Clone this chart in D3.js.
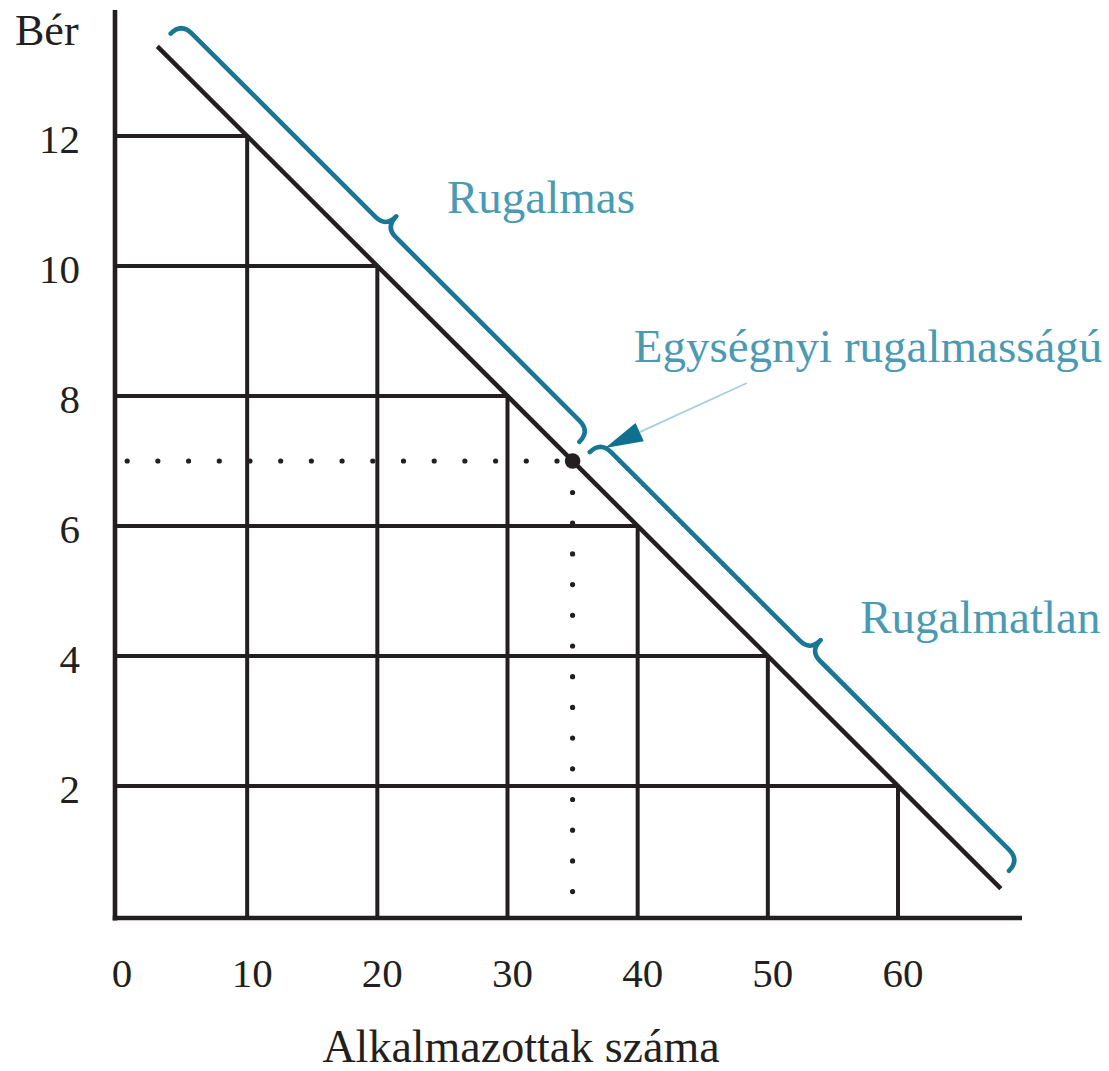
<!DOCTYPE html>
<html>
<head>
<meta charset="utf-8">
<script src="https://cdn.jsdelivr.net/npm/d3@7/dist/d3.min.js"></script>
<style>
  html, body { margin: 0; padding: 0; background: #fff; }
  svg { display: block; }
  text { font-family: "Liberation Serif", "Times New Roman", serif; }
</style>
</head>
<body>
<svg id="chart" width="1109" height="1071"></svg>
<script>
// ---- Data ----
const employees = [10, 20, 30, 40, 50, 60];          // grid columns (x)
const wages = [12, 10, 8, 6, 4, 2];                   // grid rows (y)
const xTicks = [0, 10, 20, 30, 40, 50, 60];
const yTicks = [2, 4, 6, 8, 10, 12];
const demandL = [3.1, 67.9];                          // demand line extent: W = 14 - L/5
const unitPoint = [35, 7];                            // unit-elastic point
const braceRanges = [[3.2, 34.6], [35.4, 67.6]];       // elastic / inelastic segments
const labels = [
  { text: "Rugalmas", L: 25.35, W: 10.82 },
  { text: "Egységnyi rugalmasságú", L: 39.7, W: 8.52 },
  { text: "Rugalmatlan", L: 57.1, W: 4.35 }
];
const arrowFrom = [48.4, 8.2];
const arrowTo = [37.5, 7.2];
const xTitle = "Alkalmazottak száma";
const yTitle = "Bér";

const demand = L => 14 - L / 5;

// ---- Scales ----
const x = d3.scaleLinear().domain([0, 60]).range([117, 898]);
const y = d3.scaleLinear().domain([0, 12]).range([916, 136]);

const svg = d3.select("#chart");
const black = "#231f20";
const braceColor = "#177795";
const textColor = "#4a9ab4";

// grid rectangles
svg.append("g").selectAll("line.h").data(wages).join("line")
  .attr("x1", x(0)).attr("x2", (w, i) => x(employees[i]))
  .attr("y1", d => y(d)).attr("y2", d => y(d))
  .attr("stroke", black).attr("stroke-width", 4);
svg.append("g").selectAll("line.v").data(employees).join("line")
  .attr("x1", d => x(d)).attr("x2", d => x(d))
  .attr("y1", y(0)).attr("y2", d => y(demand(d)))
  .attr("stroke", black).attr("stroke-width", 4);

// axes
svg.append("line").attr("x1", x(0) - 2).attr("x2", x(0) - 2)
  .attr("y1", 10).attr("y2", y(0) + 4.5)
  .attr("stroke", black).attr("stroke-width", 4.6);
svg.append("line").attr("x1", x(0) - 4.3).attr("x2", 1022)
  .attr("y1", y(0) + 2).attr("y2", y(0) + 2)
  .attr("stroke", black).attr("stroke-width", 4.6);

// tick labels
svg.append("g").selectAll("text").data(xTicks).join("text")
  .attr("x", d => x(d) + 5).attr("y", y(0) + 71)
  .attr("text-anchor", "middle").attr("font-size", 41).attr("fill", black)
  .text(d => d);
svg.append("g").selectAll("text").data(yTicks).join("text")
  .attr("x", 80).attr("y", d => y(d) + 17)
  .attr("text-anchor", "end").attr("font-size", 41).attr("fill", black)
  .text(d => d);

// titles
svg.append("text").attr("x", 15).attr("y", 45).attr("font-size", 44)
  .attr("fill", black).text(yTitle);
svg.append("text").attr("x", 521).attr("y", 1062).attr("text-anchor", "middle")
  .attr("font-size", 46).attr("fill", black).text(xTitle);

// dotted guides
const px = x(unitPoint[0]), py = y(unitPoint[1]);
const gap = 30.7;
svg.append("line")
  .attr("x1", px - 15.6).attr("x2", x(0) + 5)
  .attr("y1", py).attr("y2", py)
  .attr("stroke", black).attr("stroke-width", 5.2)
  .attr("stroke-linecap", "round").attr("stroke-dasharray", `0 ${gap}`);
svg.append("line")
  .attr("x1", px).attr("x2", px)
  .attr("y1", py + 31.5).attr("y2", y(0.35))
  .attr("stroke", black).attr("stroke-width", 5.2)
  .attr("stroke-linecap", "round").attr("stroke-dasharray", `0 ${gap}`);

// demand line
svg.append("line")
  .attr("x1", x(demandL[0])).attr("y1", y(demand(demandL[0])))
  .attr("x2", x(demandL[1])).attr("y2", y(demand(demandL[1])))
  .attr("stroke", black).attr("stroke-width", 4.5).attr("stroke-linecap", "butt");

// point
svg.append("circle").attr("cx", px).attr("cy", py).attr("r", 7.8).attr("fill", black);

// braces
function bracePath(L0, L1) {
  const p0 = [x(L0), y(demand(L0)) - 2], p1 = [x(L1), y(demand(L1)) - 2];
  const dx = p1[0] - p0[0], dy = p1[1] - p0[1];
  const len = Math.hypot(dx, dy);
  const u = [dx / len, dy / len], n = [u[1], -u[0]];
  const P = (s, h) => [p0[0] + s * u[0] + h * n[0], p0[1] + s * u[1] + h * n[1]];
  const h0 = 17, hm = 32, ht = 47, r = 15, rt = 14, mid = len / 2;
  const f = p => p[0].toFixed(2) + "," + p[1].toFixed(2);
  return "M" + f(P(0, h0)) +
    "Q" + f(P(0, hm)) + " " + f(P(r, hm)) +
    "L" + f(P(mid - rt, hm)) +
    "Q" + f(P(mid, hm)) + " " + f(P(mid, ht)) +
    "Q" + f(P(mid, hm)) + " " + f(P(mid + rt, hm)) +
    "L" + f(P(len - r, hm)) +
    "Q" + f(P(len, hm)) + " " + f(P(len, h0));
}
svg.append("g").selectAll("path").data(braceRanges).join("path")
  .attr("d", d => bracePath(d[0], d[1]))
  .attr("fill", "none").attr("stroke", braceColor).attr("stroke-width", 4.6)
  .attr("stroke-linecap", "round").attr("stroke-linejoin", "round");

// arrow
const a0 = [x(arrowFrom[0]), y(arrowFrom[1])], a1 = [x(arrowTo[0]), y(arrowTo[1])];
const adx = a1[0] - a0[0], ady = a1[1] - a0[1], alen = Math.hypot(adx, ady);
const au = [adx / alen, ady / alen], an = [-au[1], au[0]];
const headLen = 38, headW = 10;
const base = [a1[0] - au[0] * headLen, a1[1] - au[1] * headLen];
svg.append("line").attr("x1", a0[0]).attr("y1", a0[1]).attr("x2", base[0]).attr("y2", base[1])
  .attr("stroke", "#a7cfdd").attr("stroke-width", 1.8);
svg.append("path")
  .attr("d", `M${a1[0]},${a1[1]}L${base[0] + an[0] * headW},${base[1] + an[1] * headW}L${base[0] - an[0] * headW},${base[1] - an[1] * headW}Z`)
  .attr("fill", "#10708f");

// labels
svg.append("g").selectAll("text").data(labels).join("text")
  .attr("x", d => x(d.L)).attr("y", d => y(d.W))
  .attr("font-size", 47).attr("fill", textColor)
  .text(d => d.text);
</script>
</body>
</html>
